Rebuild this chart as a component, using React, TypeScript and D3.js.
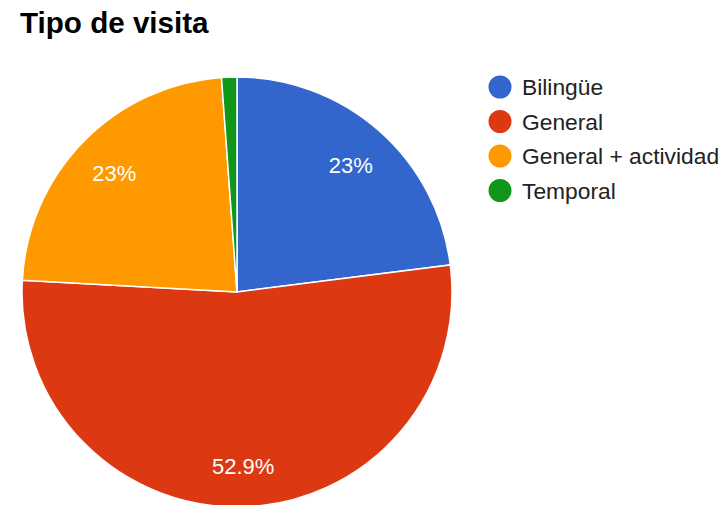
import React from "react";
import * as d3 from "d3";

const title = "Tipo de visita";
const categories = ["Bilingüe", "General", "General + actividad", "Temporal"];
const values = [20, 46, 20, 1];
const colors = ["#3366cc", "#dc3912", "#ff9900", "#109618"];

export default function App() {
  const width = 722;
  const height = 505;
  const cx = 237;
  const cy = 292;
  const r = 215;

  const pie = d3.pie<number>().sort(null).value((d) => d);
  const arcs = pie(values);
  const arc = d3.arc<d3.PieArcDatum<number>>().innerRadius(0).outerRadius(r);
  const total = d3.sum(values);
  const fmt = (v: number) => {
    const p = (v / total) * 100;
    return `${parseFloat(p.toFixed(1))}%`;
  };
  const labelArc = d3.arc<d3.PieArcDatum<number>>().innerRadius(r * 0.8).outerRadius(r * 0.8);

  return (
    <svg
      width={width}
      height={height}
      style={{ position: "fixed", left: 0, top: 0, background: "#fff" }}
      fontFamily="Arial, 'Liberation Sans', sans-serif"
    >
      <rect width={width} height={height} fill="#fff" />
      <text x={20} y={33} fontSize={29.6} fontWeight="bold" fill="#000">
        {title}
      </text>
      <g transform={`translate(${cx},${cy})`}>
        {arcs.map((a, i) => (
          <path key={i} d={arc(a) || ""} fill={colors[i]} stroke="#fff" strokeWidth={1.5} />
        ))}
        {arcs.map((a, i) => {
          if (a.endAngle - a.startAngle < 0.3) return null;
          const [x, y] = labelArc.centroid(a);
          return (
            <text
              key={"l" + i}
              x={x}
              y={y + 10}
              textAnchor="middle"
              fontSize={22}
              fill="#fff"
            >
              {fmt(values[i])}
            </text>
          );
        })}
      </g>
      <g>
        {categories.map((c, i) => (
          <g key={c} transform={`translate(500,${87 + i * 34.5})`}>
            <circle r={11.5} fill={colors[i]} />
            <text x={22} y={8} fontSize={22.8} fill="#222">
              {c}
            </text>
          </g>
        ))}
      </g>
    </svg>
  );
}
